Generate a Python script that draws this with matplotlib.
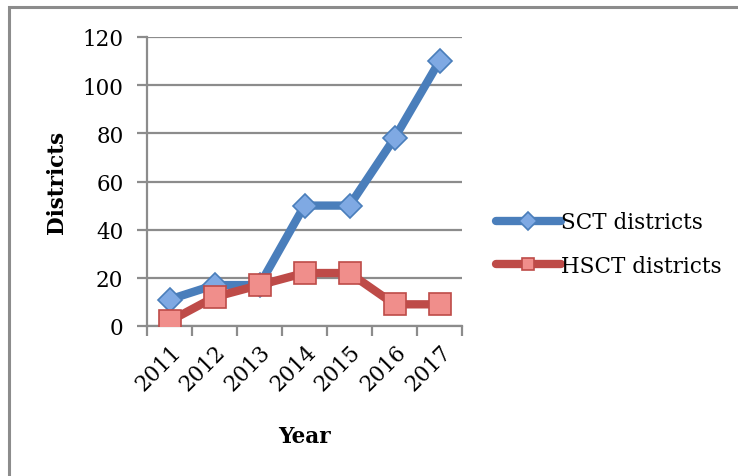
import matplotlib
matplotlib.use("Agg")
import matplotlib.pyplot as plt
from matplotlib.patches import Rectangle
from matplotlib.transforms import ScaledTranslation
import numpy as np

years = ["2011", "2012", "2013", "2014", "2015", "2016", "2017"]
sct_districts = [11, 17, 17, 50, 50, 78, 110]
hsct_districts = [2, 12, 17, 22, 22, 9, 9]
y_ticks = [0, 20, 40, 60, 80, 100, 120]

plt.rcParams["font.family"] = ["DejaVu Serif"]
FS = 15.5

W, H = 738, 477
fig = plt.figure(figsize=(W / 100, H / 100), dpi=100)
fig.patch.set_facecolor("white")

# outer chart frame (runs off the right and bottom edges)
fig.patches.append(Rectangle((9 / W, -0.1), 1.2, 1 - 8 / H + 0.1,
                             transform=fig.transFigure, fill=False,
                             edgecolor="#8c8c8c", linewidth=2.2))

ax = fig.add_axes([147 / W, 1 - 327 / H, (462 - 147) / W, (327 - 38) / H])
x = np.arange(len(years))

blue_line, blue_face = "#4a7ebb", "#7fa9e3"
red_line, red_face = "#be4b48", "#f08e8b"

ax.plot(x, sct_districts, color=blue_line, linewidth=6, marker="D",
        markersize=12, markerfacecolor=blue_face, markeredgecolor=blue_line,
        markeredgewidth=1.2, label="SCT districts", zorder=3,
        solid_joinstyle="round", solid_capstyle="round")
ax.plot(x, hsct_districts, color=red_line, linewidth=6, marker="s",
        markersize=15.5, markerfacecolor=red_face, markeredgecolor=red_line,
        markeredgewidth=1.2, label="HSCT districts", zorder=4,
        solid_joinstyle="round", solid_capstyle="round")

ax.set_xlim(-0.5, len(years) - 0.5)
ax.set_ylim(0, 120)
ax.set_yticks(y_ticks)
ax.set_yticklabels([str(v) for v in y_ticks])
ax.grid(axis="y", color="#8c8c8c", linewidth=1.6)
ax.set_axisbelow(True)

# category labels centred, tick marks on category boundaries
ax.set_xticks(x)
ax.set_xticklabels(years, rotation=45, ha="right", va="center",
                   rotation_mode="anchor")
ax.set_xticks(np.arange(-0.5, len(years)), minor=True)
ax.tick_params(axis="x", which="major", length=0, pad=16, labelsize=FS)
ax.tick_params(axis="x", which="minor", length=7, width=1.6,
               color="#8c8c8c", direction="out")
ax.tick_params(axis="y", length=7, width=1.6, color="#8c8c8c",
               direction="out", pad=10, labelsize=FS)
offset = ScaledTranslation(8 / 100, 0, fig.dpi_scale_trans)
for lbl in ax.get_xticklabels():
    lbl.set_transform(lbl.get_transform() + offset)

for side in ("top", "right"):
    ax.spines[side].set_visible(False)
for side in ("left", "bottom"):
    ax.spines[side].set_color("#8c8c8c")
    ax.spines[side].set_linewidth(1.6)

ax.set_ylabel("Districts", fontsize=FS, fontweight="bold", labelpad=10)
ax.set_xlabel("Year", fontsize=FS, fontweight="bold")
ax.xaxis.set_label_coords(0.5, -0.343)

leg = ax.legend(loc="center left", bbox_to_anchor=(496 / W, 1 - 245 / H),
                bbox_transform=fig.transFigure, frameon=False,
                fontsize=FS, handlelength=3.0, handletextpad=0.0,
                labelspacing=1.0, borderaxespad=0, borderpad=0)
for h in leg.legend_handles:
    h.set_markersize(9)

fig.savefig("out.png", dpi=100, facecolor="white")
